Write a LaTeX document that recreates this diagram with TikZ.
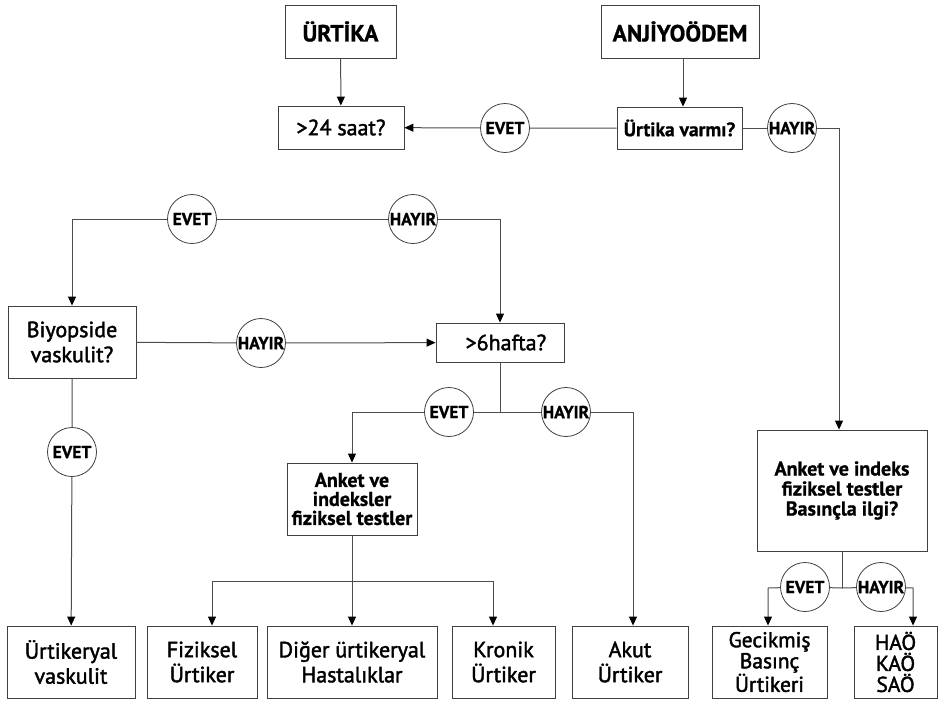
\documentclass[tikz,border=0pt]{standalone}
\usepackage{fontspec}
\setmainfont{PT Sans}
\newfontfamily\medfont{PT Sans}[FakeBold=1.8]
\newfontfamily\heavyfont{PT Sans Bold}[FakeBold=0.8]
\usetikzlibrary{arrows.meta}
\begin{document}
\begin{tikzpicture}[x=1pt,y=-1pt,
  line/.style={draw=black!70, line width=1pt},
  arr/.style={line, -{Triangle[length=9pt,width=8pt,color=black]}},
  box/.style={draw=black!75, line width=0.9pt, fill=white, align=center, inner sep=0pt},
  big/.style={box, font=\medfont\fontsize{22}{25}\selectfont},
  head/.style={box, font=\heavyfont\fontsize{23.5}{24}\selectfont},
  small/.style={box, font=\heavyfont\fontsize{19.5}{19.5}\selectfont},
  circ/.style={circle, draw=black!75, line width=0.8pt, fill=white, minimum size=49pt,
    inner sep=0pt, font=\heavyfont\fontsize{17.5}{17.5}\selectfont}]
\useasboundingbox (0,0) rectangle (949,702);

% top row
\node[head, minimum width=111pt, minimum height=53pt] (urtika) at (340.5,31.5) {ÜRTİKA};
\node[head, minimum width=158pt, minimum height=53pt] (anji) at (680,31.5) {ANJİYOÖDEM};
\node[big, minimum width=126pt, minimum height=43pt] (saat) at (341,127.5) {>24 saat?};
\node[small, minimum width=125pt, minimum height=42pt] (varmi) at (679.5,128) {Ürtika varmı?};
\node[circ] (e1) at (505,128) {EVET};
\node[circ] (h1) at (792,128) {HAYIR};

% decisions
\node[big, minimum width=128pt, minimum height=72pt] (bio) at (72,342) {Biyopside\\vaskulit?};
\node[big, minimum width=128pt, minimum height=39pt] (hafta) at (500,342.5) {~~>6hafta?};
\node[circ] (e2) at (192,219) {EVET};
\node[circ] (h2) at (413,219) {HAYIR};
\node[circ] (h3) at (261,343) {HAYIR};
\node[circ] (e4) at (72,452) {EVET};
\node[circ] (e5) at (449,412) {EVET};
\node[circ] (h5) at (566,412) {HAYIR};
\node[small, font=\heavyfont\fontsize{20}{19}\selectfont, minimum width=130pt, minimum height=72pt] (anket) at (352,499)
  {Anket ve\\indeksler\\fiziksel testler};
\node[small, font=\heavyfont\fontsize{20}{20}\selectfont, minimum width=170pt, minimum height=121pt] (rb) at (842,490.5)
  {Anket ve indeks\\fiziksel testler\\Basınçla ilgi?};
\node[circ] (e6) at (805,587) {EVET};
\node[circ] (h6) at (881,587) {HAYIR};

% outcomes
\node[big, minimum width=128pt, minimum height=72pt] (urv) at (71,662) {Ürtikeryal\\vaskulit};
\node[big, minimum width=110pt, minimum height=72pt] (fiz) at (202,662) {Fiziksel\\Ürtiker};
\node[big, minimum width=170pt, minimum height=72pt] (diger) at (352,662) {Diğer ürtikeryal\\Hastalıklar};
\node[big, minimum width=103pt, minimum height=72pt] (kronik) at (503.5,662) {Kronik\\Ürtiker};
\node[big, minimum width=116pt, minimum height=72pt] (akut) at (630,662) {Akut\\Ürtiker};
\node[big, font=\medfont\fontsize{21.5}{21}\selectfont, minimum width=115pt, minimum height=72pt] (gec) at (769.5,662) {Gecikmiş\\Basınç\\Ürtikeri};
\node[big, font=\medfont\fontsize{21.5}{21}\selectfont, minimum width=83pt, minimum height=72pt] (hao) at (895.5,662) {HAÖ\\KAÖ\\SAÖ};

% junction points
\coordinate (tl) at (72,219);
\coordinate (tr) at (500,219);
\coordinate (hr) at (839,128);
\coordinate (mj) at (500,412);
\coordinate (ml) at (352,412);
\coordinate (mr) at (633,412);
\coordinate (bj) at (352,581);
\coordinate (bl) at (212,581);
\coordinate (br) at (493,581);
\coordinate (rj) at (842,588);
\coordinate (rl) at (768,588);
\coordinate (rr) at (913,588);

% connectors
\draw[arr] (urtika) -- (saat);
\draw[arr] (anji.south -| 683,0) -- (varmi.north -| 683,0);
\draw[arr] (varmi) -- (e1) -- (saat);
\draw[arr] (varmi) -- (h1) -- (hr) -- (hr |- rb.north);

\draw[arr] (e2) -- (tl) -- (bio);
\draw[line] (e2) -- (h2);
\draw[arr] (h2) -- (tr) -- (hafta);
\draw[arr] (bio) -- (h3) -- (hafta);
\draw[arr] (bio) -- (e4) -- (urv);

\draw[line] (hafta) -- (mj);
\draw[line] (mj) -- (e5);
\draw[arr] (e5) -- (ml) -- (anket);
\draw[line] (mj) -- (h5);
\draw[arr] (h5) -- (mr) -- (mr |- akut.north);

\draw[arr] (anket) -- (diger);
\draw[arr] (bj) -- (bl) -- (bl |- fiz.north);
\draw[arr] (bj) -- (br) -- (br |- kronik.north);

\draw[line] (rb) -- (rj);
\draw[line] (rj) -- (e6);
\draw[arr] (e6) -- (rl) -- (rl |- gec.north);
\draw[line] (rj) -- (h6);
\draw[arr] (h6) -- (rr) -- (rr |- hao.north);
\end{tikzpicture}
\end{document}
